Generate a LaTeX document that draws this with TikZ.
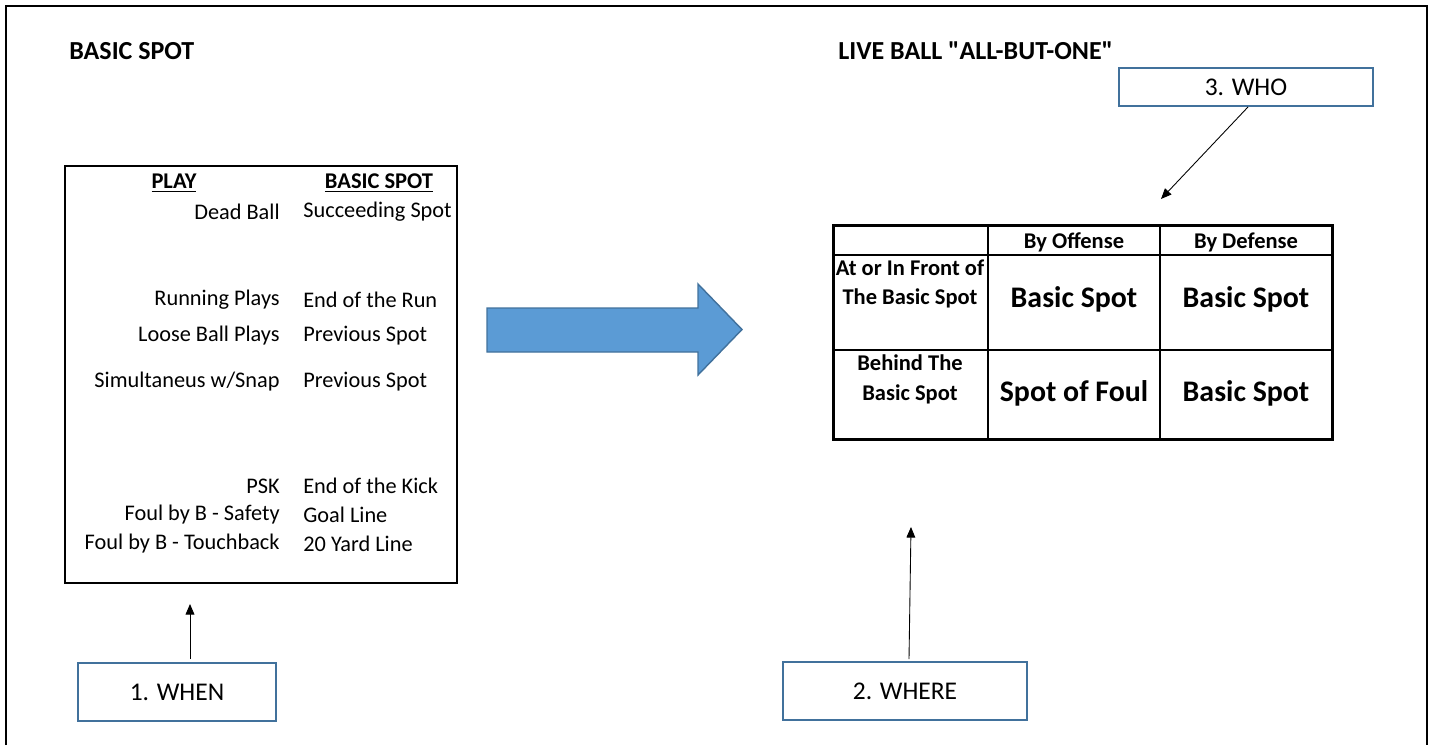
\documentclass[tikz,border=0pt]{standalone}
\usepackage{fontspec}
\setmainfont{Carlito}[Ligatures=TeXOff]
\usetikzlibrary{arrows.meta}

\definecolor{boxblue}{HTML}{41719C}
\definecolor{arrowblue}{HTML}{5B9BD5}

\tikzset{
  body/.style={font=\fontsize{12.7}{15}\selectfont, inner sep=0pt},
  head/.style={font=\fontsize{12.8}{15}\selectfont\bfseries, inner sep=0pt},
  title/.style={font=\fontsize{14.8}{17}\selectfont\bfseries, inner sep=0pt},
  big/.style={font=\fontsize{17}{20}\selectfont\bfseries, inner sep=0pt},
  tag/.style={draw=boxblue, line width=1.1pt, font=\fontsize{14.5}{17}\selectfont,
    inner sep=0pt},
  pointer/.style={-{Triangle[length=6pt,width=5pt]}, line width=0.5pt}
}

\begin{document}
\begin{tikzpicture}[x=0.02cm,y=-0.02cm]
  \useasboundingbox (0,0) rectangle (1433,745);
  % outer frame
  \draw[line width=1.4pt](6,745)--(6,6)--(1427,6)--(1427,745);
  % titles
  \node[title,anchor=west] (ttlleft) at (69,51) {BASIC SPOT};
  \node[title,anchor=west] (ttlright) at (838,51) {LIVE BALL "ALL-BUT-ONE"};
  % basic spot list
  \draw[line width=0.6pt](65,166) rectangle (457,583);
  \node[head] (hplay) at (174,183) {\underline{PLAY}};
  \node[head] (hspot) at (379,183) {\underline{BASIC SPOT}};
  \node[body,anchor=east] (p1) at (280,212) {Dead Ball};
  \node[body,anchor=west] (s1) at (303,212) {Succeeding Spot};
  \node[body,anchor=east] (p2) at (280,300) {Running Plays};
  \node[body,anchor=west] (s2) at (303,300) {End of the Run};
  \node[body,anchor=east] (p3) at (280,336) {Loose Ball Plays};
  \node[body,anchor=west] (s3) at (303,336) {Previous Spot};
  \node[body,anchor=east] (p4) at (280,382) {Simultaneus w/Snap};
  \node[body,anchor=west] (s4) at (303,382) {Previous Spot};
  \node[body,anchor=east] (p5) at (280,486) {PSK};
  \node[body,anchor=west] (s5) at (303,486) {End of the Kick};
  \node[body,anchor=east] (p6) at (280,515) {Foul by B - Safety};
  \node[body,anchor=west] (s6) at (303,515) {Goal Line};
  \node[body,anchor=east] (p7) at (280,544) {Foul by B - Touchback};
  \node[body,anchor=west] (s7) at (303,544) {20 Yard Line};
  % block arrow
  \filldraw[fill=arrowblue,draw=boxblue,line width=0.8pt]
    (487,308)--(698,308)--(698,284)--(742,329.5)--(698,375)--(698,352)--(487,352)--cycle;
  % all-but-one table
  \draw[line width=1.1pt](988,225)--(988,439);
  \draw[line width=1.1pt](1160,225)--(1160,439);
  \draw[line width=1.1pt](833,255)--(1332,255);
  \draw[line width=1.1pt](833,350)--(1332,350);
  \draw[line width=1.7pt](833,225) rectangle (1332,439);
  \node[head] (coff) at (1074,242) {By Offense};
  \node[head] (cdef) at (1246,242) {By Defense};
  \node[head,align=center] (rfront) at (910,284)
    {At or In Front of\\[2pt]The Basic Spot};
  \node[head,align=center] (rbehind) at (910,379)
    {Behind The\\[2pt]Basic Spot};
  \node[big] (c11) at (1074,299) {Basic Spot};
  \node[big] (c12) at (1246,299) {Basic Spot};
  \node[big] (c21) at (1074,393) {Spot of Foul};
  \node[big] (c22) at (1246,393) {Basic Spot};
  % tags
  \node[tag,minimum width=254*0.02cm,minimum height=38*0.02cm] (who) at (1246,87) {3. WHO};
  \node[tag,minimum width=198*0.02cm,minimum height=58*0.02cm] (when) at (177,692) {1. WHEN};
  \node[tag,minimum width=244*0.02cm,minimum height=58*0.02cm] (where) at (905,691) {2. WHERE};
  \coordinate (whotip) at (1161,199);
  \coordinate (whentip) at (190,604);
  \coordinate (wheretip) at (911,527);
  \draw[pointer] ([xshift=2*0.02cm]who.south) -- (whotip);
  \draw[pointer] (when.north -| whentip) ++(0,-3) -- (whentip);
  \draw[pointer] ([xshift=4*0.02cm,yshift=2*0.02cm]where.north) -- (wheretip);
\end{tikzpicture}
\end{document}
